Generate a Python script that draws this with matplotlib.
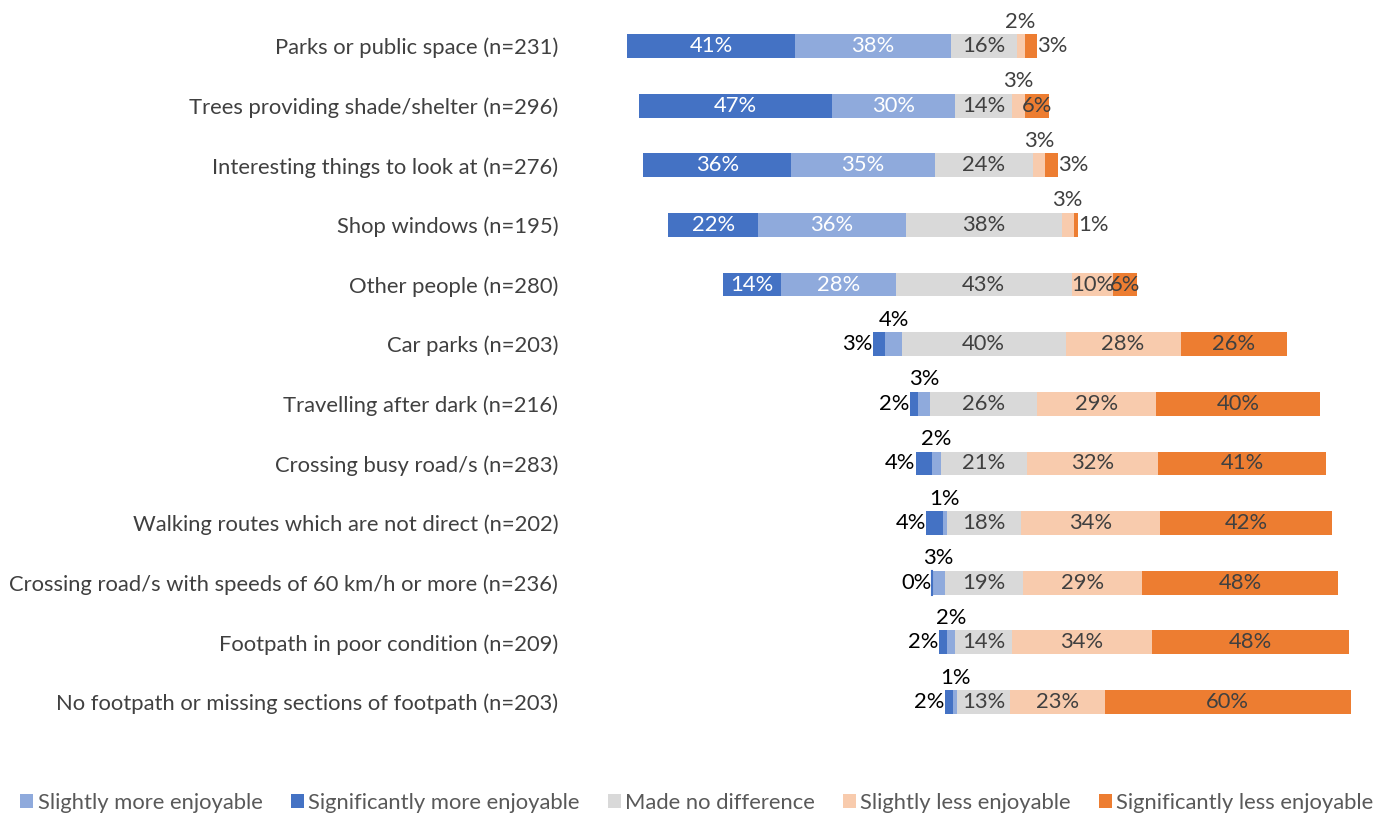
import matplotlib.pyplot as plt
import numpy as np
from matplotlib.patches import Patch

plt.rcParams['font.family'] = ['Lato', 'DejaVu Sans']

categories = [
    "Parks or public space (n=231)",
    "Trees providing shade/shelter (n=296)",
    "Interesting things to look at (n=276)",
    "Shop windows (n=195)",
    "Other people (n=280)",
    "Car parks (n=203)",
    "Travelling after dark (n=216)",
    "Crossing busy road/s (n=283)",
    "Walking routes which are not direct (n=202)",
    "Crossing road/s with speeds of 60 km/h or more (n=236)",
    "Footpath in poor condition (n=209)",
    "No footpath or missing sections of footpath (n=203)",
]

sig_more = [41, 47, 36, 22, 14, 3, 2, 4, 4, 0, 2, 2]
slight_more = [38, 30, 35, 36, 28, 4, 3, 2, 1, 3, 2, 1]
no_diff = [16, 14, 24, 38, 43, 40, 26, 21, 18, 19, 14, 13]
slight_less = [2, 3, 3, 3, 10, 28, 29, 32, 34, 29, 34, 23]
sig_less = [3, 6, 3, 1, 6, 26, 40, 41, 42, 48, 48, 60]

# stacking order left -> right
series = [
    ("Significantly more enjoyable", sig_more, "#4472C4", "white", "left"),
    ("Slightly more enjoyable", slight_more, "#8FAADC", "white", "above"),
    ("Made no difference", no_diff, "#D9D9D9", "#404040", None),
    ("Slightly less enjoyable", slight_less, "#F8CBAD", "#404040", "above"),
    ("Significantly less enjoyable", sig_less, "#ED7D31", "#404040", "right"),
]
legend_order = [1, 0, 2, 3, 4]
FS = 15.8

W, H = 1394, 814
fig = plt.figure(figsize=(W / 100, H / 100), dpi=100)

# axes placed in pixel terms: bars centred on the middle of "no difference"
scale = 4.1           # px per percent
center_px = 983.7
ax_l, ax_r = 575, 1392
ax_t, ax_b = 16.2, 731.8
ax = fig.add_axes([ax_l / W, 1 - ax_b / H, (ax_r - ax_l) / W, (ax_b - ax_t) / H])
ax.set_xlim((ax_l - center_px) / scale, (ax_r - center_px) / scale)
ax.set_ylim(len(categories) - 0.5, -0.5)

y = np.arange(len(categories))
left = -(np.array(sig_more) + np.array(slight_more) + np.array(no_diff) / 2.0)
bar_h = 0.40

for name, vals, color, tcolor, outside in series:
    vals = np.array(vals, dtype=float)
    ax.barh(y, vals, left=left, height=bar_h, color=color,
            edgecolor="none", linewidth=0, label=name)
    for yi, (l, v) in enumerate(zip(left, vals)):
        txt = f"{int(v)}%"
        if v == 0:
            # zero-width segment still shows as a hairline
            ax.plot([l, l], [yi - bar_h / 2, yi + bar_h / 2], color=color, lw=1.5)
        if outside is not None and v <= 4:
            oc = "black" if color in ("#4472C4", "#8FAADC") else "#404040"
            if outside == "left":
                ax.text(l - 0.1, yi, txt, ha="right", va="center",
                        fontsize=FS, color=oc)
            elif outside == "above":
                ax.text(l + v / 2, yi - 0.41, txt, ha="center", va="center",
                        fontsize=FS, color=oc)
            else:
                ax.text(l + v + 0.1, yi, txt, ha="left", va="center",
                        fontsize=FS, color=oc)
        else:
            ax.text(l + v / 2, yi, txt, ha="center", va="center",
                    fontsize=FS, color=tcolor)
    left = left + vals

ax.set_yticks(y)
ax.set_yticklabels(categories, fontsize=FS, color="#404040")
ax.tick_params(axis="y", length=0, pad=12)
ax.set_xticks([])
for s in ax.spines.values():
    s.set_visible(False)

handles = [Patch(facecolor=series[i][2], edgecolor="none") for i in legend_order]
labels = [series[i][0] for i in legend_order]
fig.legend(handles, labels, loc="center", bbox_to_anchor=(0.5, 1 - 803 / H),
           ncol=5, frameon=False, fontsize=FS, labelcolor="#595959",
           handlelength=0.6, handleheight=0.6, handletextpad=0.2,
           columnspacing=1.27, borderaxespad=0, borderpad=0)

fig.savefig("out.png", dpi=100)
